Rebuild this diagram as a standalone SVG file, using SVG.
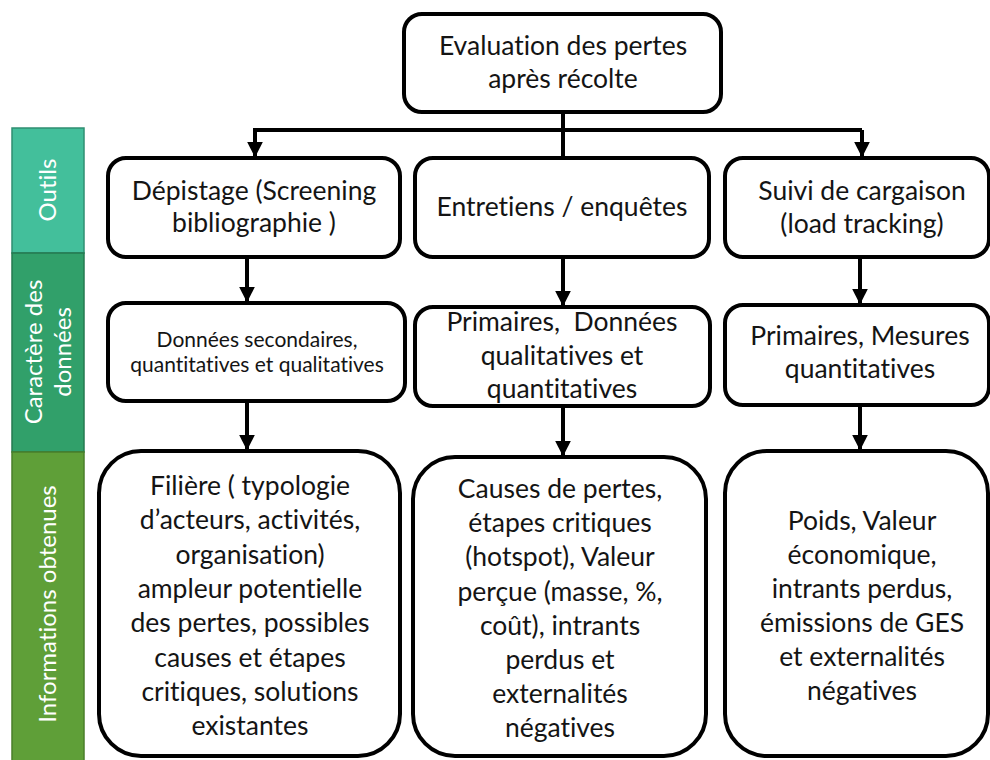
<svg xmlns="http://www.w3.org/2000/svg" width="990" height="760" viewBox="0 0 990 760">
  <style>
    .box { fill: #ffffff; stroke: #000000; stroke-width: 4; }
    .link { fill: none; stroke: #000000; stroke-width: 4; }
    .t { font-family: Lato, "Liberation Sans", sans-serif; fill: #141414; text-anchor: middle; font-variant-ligatures: none; }
    .big { font-size: 26.5px; }
    .small { font-size: 21px; }
    .band { stroke-width: 1.5; }
    .bandtext { font-family: Lato, "Liberation Sans", sans-serif; font-size: 24px; fill: #ffffff; text-anchor: middle; font-variant-ligatures: none; }
  </style>
  <defs>
    <marker id="arrow" viewBox="0 0 10 10" refX="9" refY="5" markerWidth="4" markerHeight="4" markerUnits="strokeWidth" orient="auto">
      <path d="M0,0 L10,5 L0,10 Z" fill="#000000"/>
    </marker>
  </defs>
  <rect width="990" height="760" fill="#ffffff"/>

  <!-- Row bands on the left -->
  <g id="band-outils">
    <rect class="band" x="12" y="128" width="72" height="125" fill="#43bf9b" stroke="#2f8f72"/>
    <text class="bandtext" transform="translate(56,190) rotate(-90)">Outils</text>
  </g>
  <g id="band-caractere">
    <rect class="band" x="12" y="253" width="72" height="199" fill="#31a06a" stroke="#247a50"/>
    <text class="bandtext" transform="translate(42,352) rotate(-90)">Caractère des</text>
    <text class="bandtext" transform="translate(71,352) rotate(-90)">données</text>
  </g>
  <g id="band-informations">
    <rect class="band" x="12" y="452" width="72" height="310" fill="#5f9f38" stroke="#4a7f2a"/>
    <text class="bandtext" transform="translate(56,604) rotate(-90)">Informations obtenues</text>
  </g>

  <!-- Connectors -->
  <g id="connectors">
    <path class="link" d="M563,112 V156"/>
    <path class="link" d="M862,130 H255 V156" marker-end="url(#arrow)"/>
    <path class="link" d="M862,130 V156" marker-end="url(#arrow)"/>
    <path class="link" d="M247,257 V301" marker-end="url(#arrow)"/>
    <path class="link" d="M563,257 V305" marker-end="url(#arrow)"/>
    <path class="link" d="M860,257 V303" marker-end="url(#arrow)"/>
    <path class="link" d="M247,401 V449" marker-end="url(#arrow)"/>
    <path class="link" d="M563,406 V455" marker-end="url(#arrow)"/>
    <path class="link" d="M860,405 V449" marker-end="url(#arrow)"/>
  </g>

  <!-- Root -->
  <g id="evaluation">
    <rect class="box" x="404" y="14" width="317" height="98" rx="18"/>
    <text class="t big" x="563" y="55">Evaluation des pertes</text>
    <text class="t big" x="563" y="88">après récolte</text>
  </g>

  <!-- Tools -->
  <g id="depistage">
    <rect class="box" x="108" y="158" width="292" height="99" rx="18"/>
    <text class="t big" x="254" y="200">Dépistage (Screening</text>
    <text class="t big" x="254" y="232">bibliographie )</text>
  </g>
  <g id="entretiens">
    <rect class="box" x="415" y="158" width="294" height="99" rx="18"/>
    <text class="t big" x="562" y="216">Entretiens / enquêtes</text>
  </g>
  <g id="suivi">
    <rect class="box" x="725" y="158" width="264" height="99" rx="18"/>
    <text class="t big" x="862" y="200">Suivi de cargaison</text>
    <text class="t big" x="862" y="233">(load tracking)</text>
  </g>

  <!-- Data character -->
  <g id="donnees-secondaires">
    <rect class="box" x="108" y="303" width="297" height="98" rx="18"/>
    <text class="t small" x="257" y="347">Données secondaires,</text>
    <text class="t small" x="257" y="372">quantitatives et qualitatives</text>
  </g>
  <g id="donnees-primaires">
    <rect class="box" x="415" y="307" width="295" height="99" rx="18"/>
    <text class="t big" x="562" y="331" xml:space="preserve">Primaires,  Données</text>
    <text class="t big" x="562" y="365">qualitatives et</text>
    <text class="t big" x="562" y="398">quantitatives</text>
  </g>
  <g id="mesures">
    <rect class="box" x="725" y="305" width="264" height="100" rx="18"/>
    <text class="t big" x="860" y="345">Primaires, Mesures</text>
    <text class="t big" x="860" y="378">quantitatives</text>
  </g>

  <!-- Information obtained -->
  <g id="info-depistage">
    <rect class="box" x="99" y="451" width="301" height="305" rx="42"/>
    <text class="t big" x="250" y="495">Filière ( typologie</text>
    <text class="t big" x="250" y="529">d’acteurs, activités,</text>
    <text class="t big" x="250" y="564">organisation)</text>
    <text class="t big" x="250" y="598">ampleur potentielle</text>
    <text class="t big" x="250" y="632">des pertes, possibles</text>
    <text class="t big" x="250" y="667">causes et étapes</text>
    <text class="t big" x="250" y="701">critiques, solutions</text>
    <text class="t big" x="250" y="735">existantes</text>
  </g>
  <g id="info-entretiens">
    <rect class="box" x="413" y="457" width="293" height="299" rx="42"/>
    <text class="t big" x="560" y="498">Causes de pertes,</text>
    <text class="t big" x="560" y="532">étapes critiques</text>
    <text class="t big" x="560" y="566">(hotspot), Valeur</text>
    <text class="t big" x="560" y="601">perçue (masse, %,</text>
    <text class="t big" x="560" y="635">coût), intrants</text>
    <text class="t big" x="560" y="669">perdus et</text>
    <text class="t big" x="560" y="703">externalités</text>
    <text class="t big" x="560" y="737">négatives</text>
  </g>
  <g id="info-suivi">
    <rect class="box" x="725" y="451" width="263" height="305" rx="42"/>
    <text class="t big" x="862" y="530">Poids, Valeur</text>
    <text class="t big" x="862" y="564">économique,</text>
    <text class="t big" x="862" y="598">intrants perdus,</text>
    <text class="t big" x="862" y="632">émissions de GES</text>
    <text class="t big" x="862" y="666">et externalités</text>
    <text class="t big" x="862" y="700">négatives</text>
  </g>
</svg>
